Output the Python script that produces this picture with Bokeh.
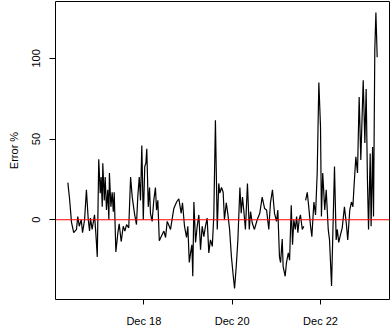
import numpy as np
from datetime import datetime, timedelta
from bokeh.plotting import figure
from bokeh.models import Span, Range1d, DatetimeTickFormatter, FixedTicker, ColumnDataSource
from bokeh.embed import file_html
from bokeh.resources import INLINE

start = datetime(2023, 12, 16)

# hours since Dec 16 00:00 and the error in percent (NaN marks a gap)
hours = [
    6.7, 7.6, 8.7, 9.9, 11.4, 12.1, 12.9, 14.0, 14.7, 15.8, 16.8, 17.8, 18.5, 19.0, 19.9,
    21.2, 21.9, 22.7, 23.5, 24.3, 24.8, 25.4, 25.7, 26.5, 27.0, 27.7, 28.4, 29.0, 29.3,
    30.1, 30.8, 31.4, 31.9, 32.8, 33.9, 34.6, 35.7, 36.8, 37.7, 38.6, 39.8,
    40.8, 41.7, 42.9, 44.0, 44.7, 45.5, 46.2, 46.9, 47.7, 48.5, 49.1, 49.6, 50.4, 51.1,
    51.6, 52.5, 53.4, 54.3, 54.9, 55.6, 56.4, 57.6, 58.9, 59.8, 60.7, 61.8,
    62.5, 64.3, 65.8, 67.0, 68.3, 69.0, 70.1, 71.2, 71.9, 72.7, 73.4, 74.1, 74.6, 75.2,
    76.1, 77.0, 77.9, 78.8, 79.7, 80.6, 81.5, 82.4, 83.3, 84.2, 85.2, 86.0, 86.9, 87.9,
    88.7, 89.3, 90.2, 91.1, 91.8, 92.8, 93.6, 94.6, 95.6, 96.6, 97.3, 98.2, 99.1, 100.2,
    100.9, 101.6, 102.3, 103.2, 104.3, 105.3, 106.0, 106.9, 108.1, 109.6, 111.0, 112.3,
    113.6, 114.7, 115.9, 116.8, 117.9, 119.0, 120.1, 120.8, 121.7,
    122.3, 123.2, 123.7, 124.8, 125.5, 126.5, 127.2, 128.1, 128.8, 129.5, 130.3, 131.0,
    131.7, 132.4, 133.1, 134.1, 134.9, 135.4,
    135.9, 136.8, 137.6, 138.6, 139.3, 140.4, 141.3, 142.2, 143.1, 144.0, 144.5, 145.2,
    146.3, 147.1, 148.2, 148.9, 150.0, 151.6, 152.5, 153.1, 153.9, 154.9, 155.8, 157.0,
    158.0, 158.8, 159.9, 160.8, 161.6, 162.1, 163.2, 164.1, 165.0, 165.9, 167.2, 168.1,
    168.8, 169.5, 170.1, 171.0, 171.5, 172.3, 172.8, 173.5, 174.1, 174.8,
]
error_pct = [
    23, 13.5, -1.6, -8, -6, 2, -4, 0, -8, 0, 18.5, 0, -7, 1, -6,
    3, -8, -23, 37.5, 16.5, 26.5, 8, 35, 12, 26.5, 6, 18.5, 0, 29,
    8, 17, 5, 17, -20, -8, -2.5, -13.5, -4, -7, -3, -5,
    26.5, 14, 4, -3, 14, 26.5, 12, 46, 0, 33, 35, 44, 8, 20,
    4, -1, 12, 20, 6, 12, -13, -10, -7, -11, -1, -4,
    -6, 7, 11, 13, 4, 10.5, -4, -11, -4, -26.5, -20.5, -15.5, -35, 11,
    -14, -4, 3, -18.5, -4, -10.5, -4, 1, -20.5, -12.5, -16.5, 2, 61.7, -6,
    22.5, 16.5, 20, 17, 0, 10.5, 4, -6, -23, -35, -42.6, -29, -12.5, 20,
    4, 14, 6, -6, 22.5, -6, 5, -2, -6, 0, 4, 14,
    7, 6, -6, 10.5, 18.5, 4, -1, 6, -23,
    -26.5, -12, -29, -35, -26.5, -20.5, -25, 9, -15.5, 0, -6, 2,
    -8, 0, 3, -6, -4, float("nan"),
    12, 17, 8, -4, -10.5, 11, 3, 29, 85, 57.5, 2, 29,
    6, 18.5, -6, -12.5, -41, 33, -12.5, -6, -14, -9, -5, 8,
    -2, -12.5, 6, 11, 8, 18.5, 39, 29, 76, 37, 86.4, 47.5,
    81, 24.7, -6, 41, -4, 45, 2, 105, 128.4, 100.6,
]
x_tick_dates = [datetime(2023, 12, 18), datetime(2023, 12, 20), datetime(2023, 12, 22)]
y_ticks = [0, 50, 100]
y_label = "Error %"

times = [start + timedelta(hours=h) for h in hours]
src = ColumnDataSource(data=dict(t=times, v=error_pct))

FONT = "Liberation Sans"

p = figure(
    width=390, height=329,
    x_axis_type="datetime",
    output_backend="svg", toolbar_location=None,
    x_range=Range1d(start=start, end=start + timedelta(days=7.562)),
    y_range=Range1d(start=-49.4, end=135.2),
    min_border_left=55, min_border_right=1, min_border_top=1, min_border_bottom=29,
)
p.background_fill_color = "white"
p.border_fill_color = "white"
p.outline_line_color = "black"
p.outline_line_width = 1
p.grid.visible = False

p.line("t", "v", source=src, line_color="black", line_width=1.2)
p.add_layout(Span(location=0, dimension="width", line_color="red", line_width=1.2))

ms = [(d - datetime(1970, 1, 1)).total_seconds() * 1000 for d in x_tick_dates]
p.xaxis.ticker = FixedTicker(ticks=ms)
p.xaxis.formatter = DatetimeTickFormatter(days="%b %d", months="%b %d", hours="%b %d")
p.yaxis.ticker = FixedTicker(ticks=y_ticks)
p.yaxis.major_label_orientation = "vertical"
p.yaxis.axis_label = y_label

for ax in (p.xaxis[0], p.yaxis[0]):
    ax.axis_line_color = None
    ax.major_tick_line_color = "black"
    ax.major_tick_in = 0
    ax.major_tick_out = 6
    ax.minor_tick_line_color = None
    ax.major_label_text_font = FONT
    ax.major_label_text_font_size = "11px"
    ax.major_label_text_color = "black"
    ax.axis_label_text_font = FONT
    ax.axis_label_text_font_size = "11px"
    ax.axis_label_text_font_style = "normal"
    ax.axis_label_text_color = "black"

p.xaxis.major_tick_out = 5
p.xaxis.major_label_standoff = 10
p.yaxis.major_label_standoff = 9
p.yaxis.axis_label_standoff = 10

open("out.html", "w").write(file_html(p, INLINE))
